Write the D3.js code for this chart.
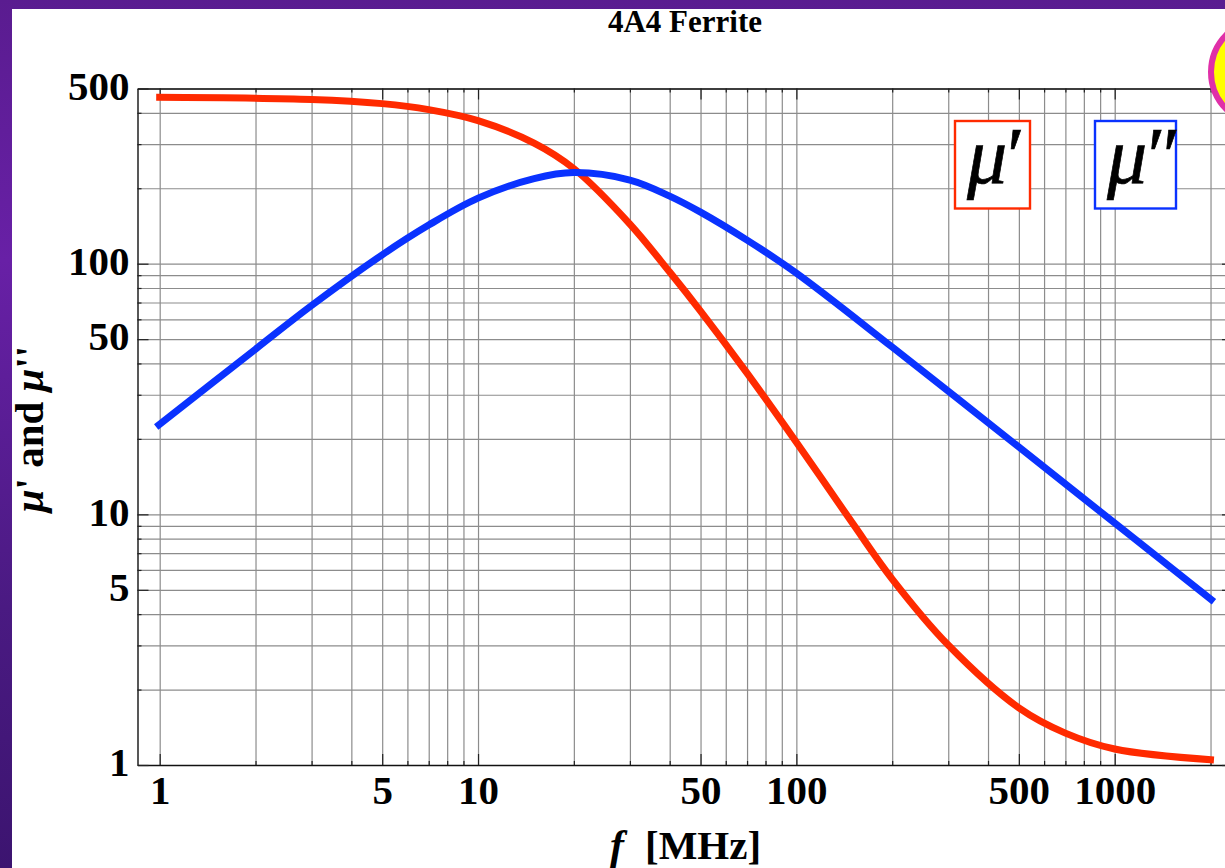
<!DOCTYPE html>
<html>
<head>
<meta charset="utf-8">
<script src="https://cdnjs.cloudflare.com/ajax/libs/d3/7.8.5/d3.min.js"></script>
<style>
  html, body { margin: 0; padding: 0; background: #fff; overflow: hidden; }
  svg { display: block; }
  text { font-family: "Liberation Serif", serif; fill: #000; }
  .tick text { font-size: 41px; font-weight: bold; font-family: "Liberation Serif", serif; }
</style>
</head>
<body>
<div id="chart"></div>
<script>
// values (frequency in MHz)
const muPrimeFreq = [0.975, 3, 5, 7, 10, 15, 20, 30, 40, 50, 70, 100, 150, 200, 300, 500, 700, 1000, 2050];
const muPrimeValues = [461, 452.3, 435.2, 411.8, 372.2, 302.8, 239.5, 143.9, 92.6, 64.7, 36.6, 19.4, 9.23, 5.52, 3.01, 1.69, 1.34, 1.158, 1.047];

const muDoublePrimeFreq = [0.975, 2, 3, 5, 7, 10, 15, 20, 30, 40, 50, 70, 100, 200, 500, 1000, 2050];
const muDoublePrimeValues = [22.3, 45.6, 68.1, 108.5, 142.6, 182.6, 218.5, 230.9, 215.6, 186.1, 160.6, 124.2, 91.7, 46.5, 18.55, 9.23, 4.48];

const xLabelTicks = [1, 5, 10, 50, 100, 500, 1000];
const xMinorTicks = [2, 3, 4, 6, 7, 8, 9, 20, 30, 40, 60, 70, 80, 90, 200, 300, 400, 600, 700, 800, 900, 2000];
const yLabelTicks = [1, 5, 10, 50, 100, 500];
const yMinorTicks = [2, 3, 4, 6, 7, 8, 9, 20, 30, 40, 60, 70, 80, 90, 200, 300, 400];

const titleText = "4A4 Ferrite";
const RED = "#ff2a00";
const BLUE = "#0a32ff";

const W = 1225, H = 868;
const plot = { left: 137.5, right: 1233, top: 88.5, bottom: 765 };

const svg = d3.select("#chart").append("svg")
  .attr("width", W)
  .attr("height", H);

// purple slide background behind the white panel
const grad = svg.append("defs").append("linearGradient")
  .attr("id", "bg")
  .attr("x1", 0).attr("y1", 0).attr("x2", 0).attr("y2", 1);
grad.append("stop").attr("offset", "0%").attr("stop-color", "#5a1c90");
grad.append("stop").attr("offset", "30%").attr("stop-color", "#6820a6");
grad.append("stop").attr("offset", "70%").attr("stop-color", "#4a1a82");
grad.append("stop").attr("offset", "100%").attr("stop-color", "#3c1470");

svg.append("rect").attr("width", W).attr("height", H).attr("fill", "url(#bg)");
svg.append("rect").attr("x", 12).attr("y", 9).attr("width", W - 12).attr("height", H - 9).attr("fill", "#fff");

// scales: log axes, x runs a little past the window on the right
const xScale = d3.scaleLog().domain([0.8517, 2353]).range([plot.left, plot.right]);
const yScale = d3.scaleLog().domain([1, 500]).range([plot.bottom, plot.top]);

const allX = xLabelTicks.concat(xMinorTicks);
const allY = yLabelTicks.concat(yMinorTicks);

// grid
svg.append("g")
  .attr("transform", "translate(0," + plot.bottom + ")")
  .call(d3.axisBottom(xScale).tickValues(allX).tickSize(-(plot.bottom - plot.top)).tickFormat(""))
  .call(g => g.select(".domain").remove())
  .call(g => g.selectAll("line").attr("stroke", "#8c8c8c").attr("stroke-width", 1.2));

svg.append("g")
  .attr("transform", "translate(" + plot.left + ",0)")
  .call(d3.axisLeft(yScale).tickValues(allY).tickSize(-(plot.right - plot.left)).tickFormat(""))
  .call(g => g.select(".domain").remove())
  .call(g => g.selectAll("line").attr("stroke", "#8c8c8c").attr("stroke-width", 1.2));

// frame ticks: long on labelled values, short on the rest
function frameAxis(axisFn, scale, offset, major, minor, labelled) {
  const g = svg.append("g").attr("transform", offset);
  g.call(axisFn(scale).tickValues(minor).tickSize(-4).tickSizeOuter(0).tickFormat(""));
  g.selectAll("line").attr("stroke", "#222").attr("stroke-width", 1.2);
  g.select(".domain").attr("stroke", "#111").attr("stroke-width", 1.4);
  const m = svg.append("g").attr("transform", offset);
  const ax = axisFn(scale).tickValues(major).tickSize(-11).tickSizeOuter(0);
  ax.tickFormat(labelled ? d3.format("d") : "").tickPadding(labelled && axisFn === d3.axisLeft ? 8 : 10.2);
  m.call(ax);
  m.select(".domain").remove();
  m.selectAll("line").attr("stroke", "#222").attr("stroke-width", 1.2);
  return m;
}

frameAxis(d3.axisBottom, xScale, "translate(0," + plot.bottom + ")", xLabelTicks, xMinorTicks, true);
frameAxis(d3.axisTop, xScale, "translate(0," + plot.top + ")", xLabelTicks, xMinorTicks, false);
frameAxis(d3.axisLeft, yScale, "translate(" + plot.left + ",0)", yLabelTicks, yMinorTicks, true)
  .selectAll("text").attr("dy", "0.26em");
frameAxis(d3.axisRight, yScale, "translate(" + plot.right + ",0)", yLabelTicks, yMinorTicks, false);

// curves
const line = d3.line()
  .x(d => xScale(d[0]))
  .y(d => yScale(d[1]))
  .curve(d3.curveCatmullRom.alpha(0.5));

svg.append("path")
  .attr("d", line(d3.zip(muPrimeFreq, muPrimeValues)))
  .attr("fill", "none").attr("stroke", RED).attr("stroke-width", 7);

svg.append("path")
  .attr("d", line(d3.zip(muDoublePrimeFreq, muDoublePrimeValues)))
  .attr("fill", "none").attr("stroke", BLUE).attr("stroke-width", 7);

// legend boxes
function legendBox(x0, x1, color, label) {
  svg.append("rect")
    .attr("x", x0).attr("y", 121)
    .attr("width", x1 - x0).attr("height", 87.5)
    .attr("fill", "#fff").attr("stroke", color).attr("stroke-width", 2.4);
  svg.append("text")
    .attr("x", x0 + 12).attr("y", 183)
    .style("font-size", "80px").style("font-style", "italic")
    .style("letter-spacing", "-5px")
    .style("stroke", "#000").style("stroke-width", 0.7)
    .text(label);
}
legendBox(955, 1030, RED, "\u03bc\u2032");
legendBox(1095, 1176, BLUE, "\u03bc\u2033");

// corner badge from the slide, cut off by the window
svg.append("circle")
  .attr("cx", 1264).attr("cy", 72).attr("r", 53)
  .attr("fill", "#ffff00").attr("stroke", "#e030a8").attr("stroke-width", 6);

// title and axis labels
svg.append("text")
  .attr("x", 685).attr("y", 31.5)
  .attr("text-anchor", "middle")
  .style("font-size", "31px").style("font-weight", "bold")
  .text(titleText);

const xLab = svg.append("text")
  .attr("x", 610).attr("y", 858.8)
  .style("font-size", "41px").style("font-weight", "bold");
xLab.append("tspan").style("font-style", "italic").style("font-size", "42px").text("f");
xLab.append("tspan").attr("dx", 21).text("[MHz]");

const yLab = svg.append("text")
  .attr("transform", "translate(42.7,429) rotate(-90)")
  .attr("text-anchor", "middle")
  .style("font-size", "41px").style("font-weight", "bold");
yLab.append("tspan").style("font-style", "italic").text("\u03bc");
yLab.append("tspan").text("' and ");
yLab.append("tspan").style("font-style", "italic").text("\u03bc");
yLab.append("tspan").text("''");
</script>
</body>
</html>
